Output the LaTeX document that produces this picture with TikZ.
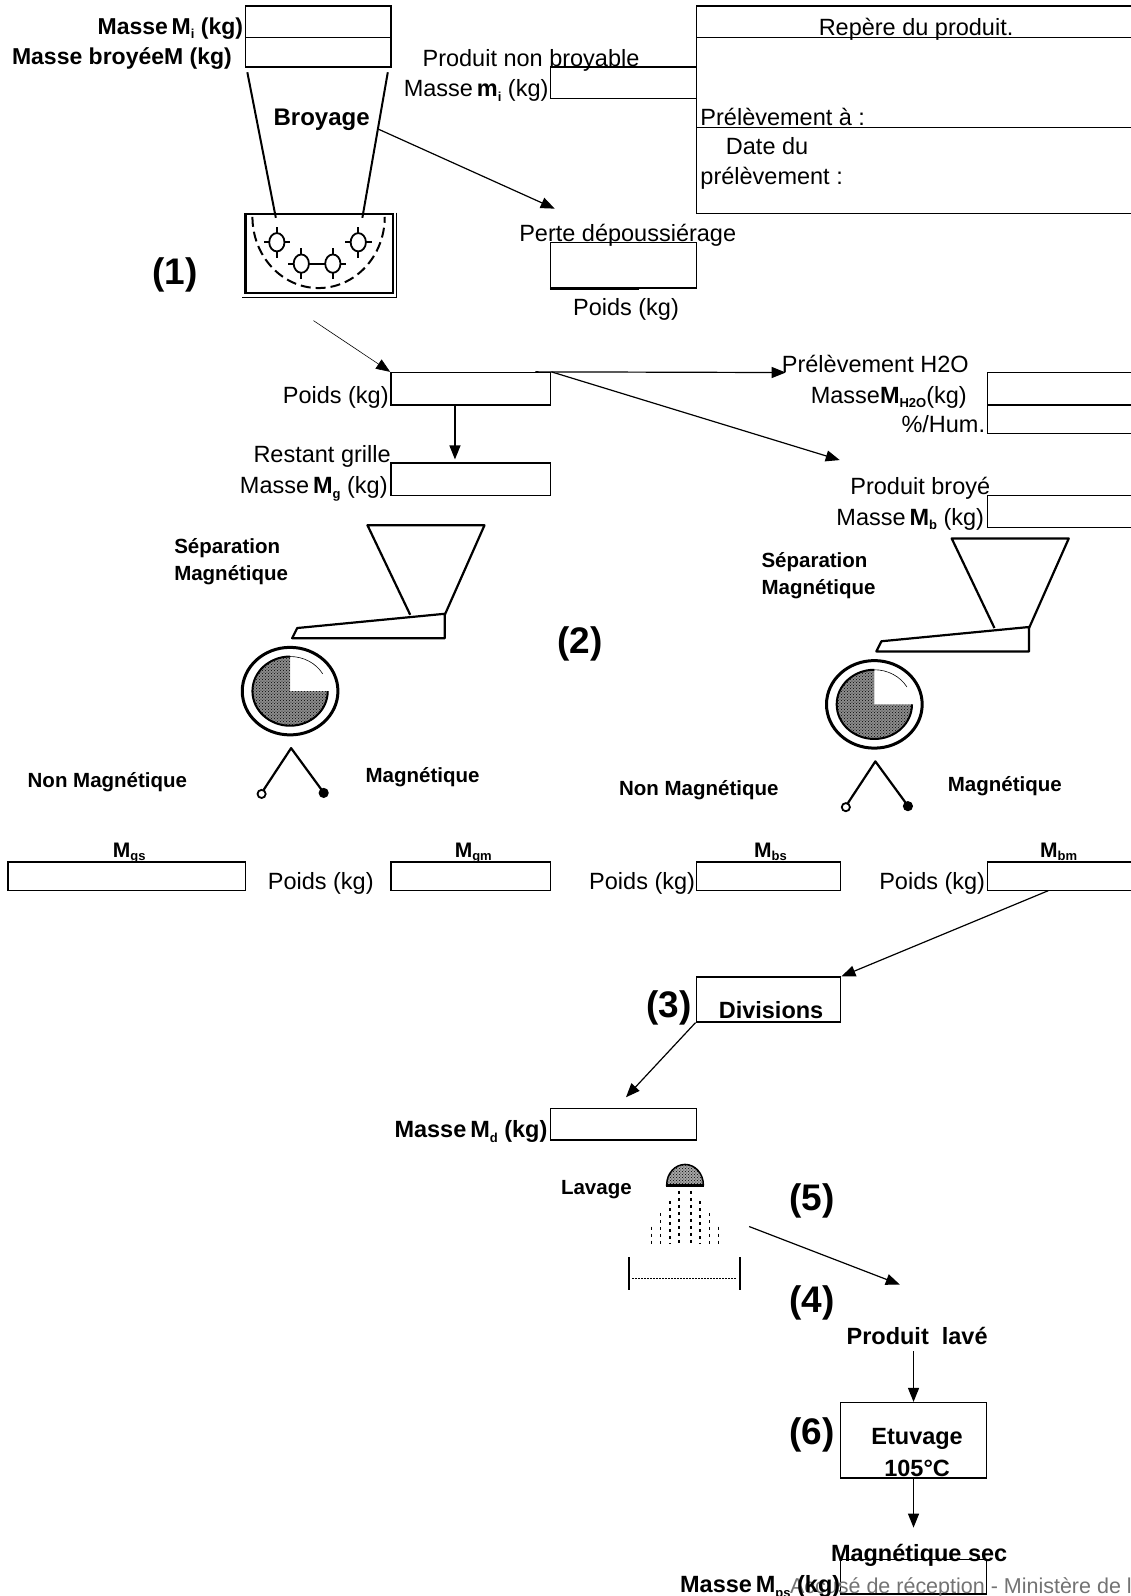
\documentclass[tikz,border=0pt]{standalone}
\usepackage{fontspec}
\setmainfont{Liberation Sans}
\usetikzlibrary{positioning, arrows.meta, fit, patterns}

\newcommand{\msub}[1]{\raisebox{-0.35ex}{\fontsize{13}{13}\selectfont\bfseries #1}}

\begin{document}
\begin{tikzpicture}[
    x=1.018pt, y=-1.018pt,
    lbl/.style={font=\fontsize{23.5}{27}\selectfont, inner sep=0pt},
    blbl/.style={font=\fontsize{23.5}{28}\selectfont\bfseries, inner sep=0pt},
    slbl/.style={font=\fontsize{20.5}{27}\selectfont\bfseries, inner sep=0pt, align=left},
    mlbl/.style={font=\fontsize{21}{24}\selectfont\bfseries, inner sep=0pt},
    numlbl/.style={font=\fontsize{37}{40}\selectfont\bfseries, inner sep=0pt},
    field/.style={draw, line width=1.4pt, inner sep=0pt, fit={#1}},
    flow/.style={-{Triangle[length=14pt,width=11pt]}, line width=1.2pt},
    heavy/.style={line width=2.2pt, line join=round}
]
    \fill[white] (0,0) rectangle (1111,1568);
    \useasboundingbox (0,0) rectangle (1111,1568);

    % Broyage
    \node[field={(241,6) (384,37)}] (mi) {};
    \node[field={(241,37) (384,66)}] (mbroy) {};
    \node[blbl, font=\fontsize{23}{28}\selectfont\bfseries, anchor=base east] (lmi) at (239,34) {Masse\,M\msub{i} (kg)};
    \node[blbl, font=\fontsize{23}{28}\selectfont\bfseries, anchor=base east] (lmbroy) at (228,63) {Masse broyéeM (kg)};
    \draw[line width=2pt] (243,71) -- (271,214);
    \draw[line width=2pt] (381,71) -- (356,214);
    \coordinate (brk) at (372,127);
    \node[blbl, font=\fontsize{24}{28}\selectfont\bfseries] (broyage) at (316,118) {Broyage};

    % grinder
    \draw[line width=2.4pt] (241,210) rectangle (386,288);
    \draw[line width=1pt] (390,209) -- (390,292) -- (238,292);
    \draw[line width=2pt, dash pattern=on 10pt off 5pt] (248,213) arc[start angle=180, end angle=0, x radius=65, y radius=70];
    \foreach \gx/\gy in {272/238, 296/259, 327/259, 352/238} {
        \draw[line width=1.8pt, fill=white] (\gx,\gy) ellipse[x radius=7.5, y radius=9];
        \draw[line width=1.8pt] (\gx,\gy-9) -- (\gx,\gy-15) (\gx,\gy+9) -- (\gx,\gy+15)
            (\gx-7.5,\gy) -- (\gx-13,\gy) (\gx+7.5,\gy) -- (\gx+13,\gy);
    }
    \draw[line width=1.8pt] (303.5,259) -- (319.5,259);
    \node[numlbl] (n1) at (172,270) {(1)};

    % Produit non broyable, repere
    \node[lbl, anchor=base west] (lnb) at (415,65) {Produit non broyable};
    \node[field={(541,66) (684,97)}] (mnb) {};
    \node[lbl, anchor=base east] (lmnb) at (539,95) {Masse\,\textbf{m}\msub{i} (kg)};
    \node[field={(684,6) (1140,210)}] (repere) {};
    \draw[line width=1.4pt] (684,37) -- (1140,37) (684,125) -- (1140,125);
    \node[lbl, anchor=base] (lrep) at (900,35) {Repère du produit.};
    \node[lbl, anchor=base west] (lprel) at (688,123) {Prélèvement à :};
    \node[lbl, anchor=base west] (ldate) at (713,152) {Date du};
    \node[lbl, anchor=base west] (ldate2) at (688,181) {prélèvement :};

    % Perte
    \node[lbl, anchor=base west] (lperte) at (510,237) {Perte dépoussiérage};
    \node[field={(541,238) (684,283)}] (perte) {};
    \draw[line width=2.4pt] (perte.south west) -- ++(87,0);
    \node[lbl, anchor=base] (lpperte) at (615,310) {Poids (kg)};
    \coordinate (perteto) at (545,205);
    \draw[flow] (brk) -- (perteto);

    % Poids, H2O, produit broye
    \node[field={(384,366) (541,398)}] (poids) {};
    \node[lbl, anchor=base east] (lpoids) at (382,396) {Poids (kg)};
    \coordinate (grfrom) at (308,315);
    \draw[flow, line width=0.6pt] (grfrom) -- (poids.north west);
    \node[lbl, anchor=base west] (lh2o) at (768,366) {Prélèvement H2O};
    \draw[flow] ([xshift=-16pt]poids.north east) -- ([xshift=4pt]lh2o.base west);
    \node[field={(970,366) (1140,398)}] (mh2o) {};
    \node[field={(970,398) (1140,426)}] (hum) {};
    \node[lbl, anchor=base east] (lmh2o) at (950,396) {Masse\textbf{M}\msub{H2O}(kg)};
    \node[lbl, anchor=base east] (lhum) at (968,425) {\%/Hum.};
    \coordinate (broyto) at (825,452);
    \draw[flow] (poids.north east) -- (broyto);
    \node[lbl, anchor=base east] (lbroy) at (973,486) {Produit broyé};
    \node[field={(970,487) (1140,518)}] (mb) {};
    \node[lbl, anchor=base east] (lmb) at (967,516) {Masse\,\textbf{M}\msub{b} (kg)};
    \node[lbl, anchor=base east] (lrest) at (384,454) {Restant grille};
    \node[field={(384,455) (541,487)}] (mg) {};
    \node[lbl, anchor=base east] (lmg) at (381,485) {Masse\,\textbf{M}\msub{g} (kg)};
    \draw[flow] ([xshift=-15.8pt]poids.south) -- ([xshift=-15.8pt, yshift=3pt]mg.north);

    % Separation magnetique (two)
    \foreach \sx/\sy in {0/0, 574/13} {
    \begin{scope}[shift={(\sx,\sy)}]
        \draw[heavy] (403,604) -- (361,516) -- (476,516) -- (437,604);
        \draw[heavy] (292,617) -- (437,603) -- (437,627) -- (287,627) -- cycle;
        \draw[line width=3pt] (285,679) ellipse[x radius=47, y radius=43];
        \fill[black!45] (285,679) -- (285,645) arc[start angle=270, end angle=0, x radius=37, y radius=34] -- cycle;
        \fill[pattern=crosshatch dots] (285,679) -- (285,645) arc[start angle=270, end angle=0, x radius=37, y radius=34] -- cycle;
        \draw[line width=2pt] (285,645) arc[start angle=270, end angle=0, x radius=37, y radius=34];
        \draw[line width=0.6pt] (285,645) arc[start angle=270, end angle=330, x radius=37, y radius=34];
        \draw[line width=2.2pt, line join=round] (259,776) -- (286,735) -- (316,776);
        \draw[line width=1.8pt, fill=white] (257,780) circle[radius=4];
        \fill (318,779) circle[radius=5];
    \end{scope}
    }
    \node[slbl, anchor=base west] (lsepg) at (171,570) {Séparation\\Magnétique};
    \node[slbl, anchor=base west] (lnmg) at (27,774) {Non Magnétique};
    \node[slbl, anchor=base west] (lmagg) at (359,769) {Magnétique};
    \node[slbl, anchor=base west] (lsepb) at (748,584) {Séparation\\Magnétique};
    \node[slbl, anchor=base west] (lnmb) at (608,782) {Non Magnétique};
    \node[slbl, anchor=base west] (lmagb) at (931,778) {Magnétique};
    \node[numlbl] (n2) at (570,633) {(2)};

    % Resultats separation
    \node[field={(8,847) (241,875)}] (mgs) {};
    \node[field={(384,847) (541,875)}] (mgm) {};
    \node[field={(684,847) (826,875)}] (mbs) {};
    \node[field={(970,847) (1140,875)}] (mbm) {};
    \node[mlbl, anchor=base] (lmgs) at (127,842) {M\msub{gs}};
    \node[mlbl, anchor=base] (lmgm) at (465,842) {M\msub{gm}};
    \node[mlbl, anchor=base] (lmbs) at (757,842) {M\msub{bs}};
    \node[mlbl, anchor=base] (lmbm) at (1040,842) {M\msub{bm}};
    \node[lbl, anchor=base west] (lpgs) at (263,874) {Poids (kg)};
    \node[lbl, anchor=base east] (lpbs) at (683,874) {Poids (kg)};
    \node[lbl, anchor=base east] (lpbm) at (968,874) {Poids (kg)};

    % Divisions
    \coordinate (mbmfrom) at (1030,875);
    \node[field={(684,960) (826,1004)}] (div) {};
    \node[blbl, anchor=base west] (ldiv) at (706,1001) {Divisions};
    \node[numlbl] (n3) at (657,990) {(3)};
    \draw[flow] (mbmfrom) -- (div.north east);
    \coordinate (mdto) at (615,1078);
    \draw[flow] (div.south west) -- (mdto);
    \node[field={(541,1089) (684,1120)}] (md) {};
    \node[blbl, anchor=base east] (lmd) at (538,1118) {Masse\,M\msub{d} (kg)};

    % Lavage
    \node[slbl, anchor=base west] (llav) at (551,1174) {Lavage};
    \fill[black!35] (655,1164) arc[start angle=180, end angle=360, x radius=18, y radius=20] -- cycle;
    \draw[line width=1.5pt, pattern=crosshatch dots] (655,1164) arc[start angle=180, end angle=360, x radius=18, y radius=20] -- cycle;
    \draw[line width=2.5pt] (654,1165) -- (692,1165);
    \foreach \px/\py in {640/1205, 649/1192, 658/1180, 667/1170, 679/1170, 688/1180, 697/1192, 706/1205}
        \draw[line width=1.6pt, dash pattern=on 3pt off 4pt] (\px,\py) -- (\px,1222);
    \draw[line width=2.2pt] (618,1235) -- (618,1267) (727,1235) -- (727,1267);
    \draw[line width=1.2pt, dash pattern=on 1.5pt off 1.5pt] (621,1256) -- (724,1256);
    \node[numlbl] (n5) at (798,1180) {(5)};
    \node[numlbl] (n4) at (798,1280) {(4)};
    \coordinate (sprayfrom) at (736,1205);
    \coordinate (laveto) at (884,1262);
    \draw[flow] (sprayfrom) -- (laveto);

    % Etuvage
    \node[blbl] (llave) at (901,1313) {Produit\ \ lavé};
    \node[field={(826,1378) (969,1452)}] (etuv) {};
    \node[blbl, anchor=base] (letuv) at (901,1419) {Etuvage};
    \node[blbl, anchor=base] (l105) at (901,1451) {105°C};
    \node[numlbl] (n6) at (798,1410) {(6)};
    \draw[flow] ([yshift=-6pt]llave.south -| etuv.north) -- (etuv.north);
    \coordinate (secto) at ([yshift=-49pt]etuv.south);
    \draw[flow] (etuv.south) -- (secto);
    \node[blbl, anchor=base] (lsec) at (903,1534) {Magnétique sec};
    \node[field={(826,1532) (969,1566)}] (mps) {};
    \node[lbl, font=\fontsize{21.5}{26}\selectfont, text=black!55, anchor=base west] (foot) at (776,1566) {Accusé de réception - Ministère de l};
    \node[blbl, anchor=base west] (lmps) at (668,1565) {Masse\,M\msub{ps} (kg)};

\end{tikzpicture}
\end{document}
